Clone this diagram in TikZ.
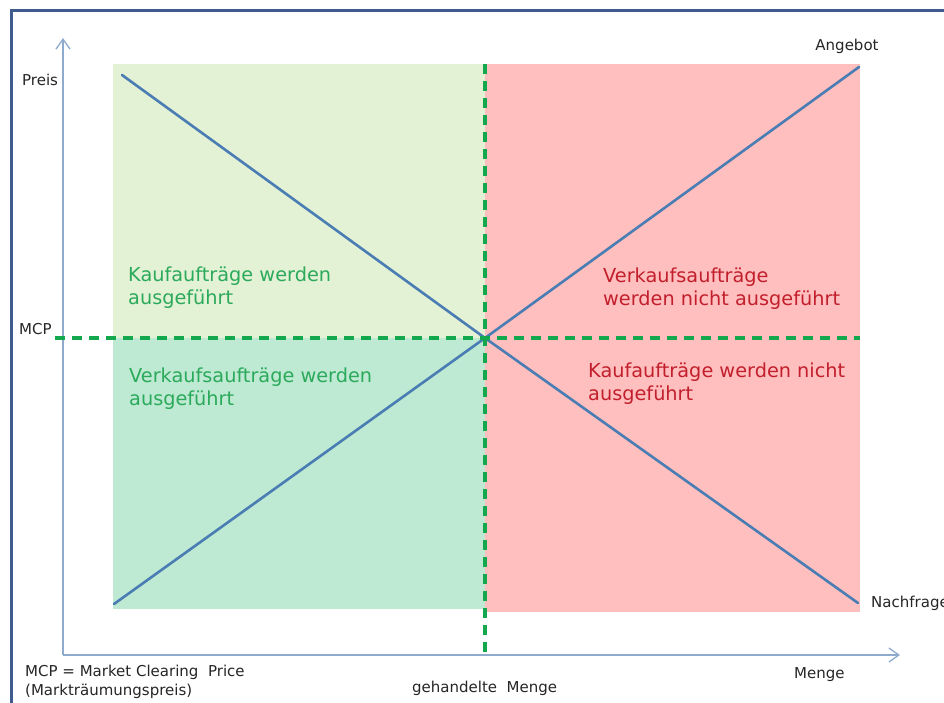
\documentclass[tikz,border=0pt]{standalone}
\usepackage{fontspec}
\setmainfont{DejaVu Sans}
\usetikzlibrary{arrows.meta}

\definecolor{framec}{HTML}{3E5C8E}
\definecolor{axisc}{HTML}{8FAACF}
\definecolor{buyfill}{HTML}{E3F1D5}
\definecolor{sellfill}{HTML}{BEE9D2}
\definecolor{nofill}{HTML}{FFBFBF}
\definecolor{curvec}{HTML}{4A7DB3}
\definecolor{mcpc}{HTML}{14A84E}
\definecolor{oktext}{HTML}{2BAA5B}
\definecolor{notext}{HTML}{C21F2C}

\begin{document}
\begin{tikzpicture}[x=1pt,y=-1pt,
  small/.style={font=\fontsize{15}{18.5}\selectfont, text=black!85, inner sep=0pt, anchor=base west, align=left},
  region/.style={font=\fontsize{19.3}{22.5}\selectfont, inner sep=0pt, anchor=base west, align=left},
  axisline/.style={draw=axisc, line width=1.3pt, -{Straight Barb[length=10pt,width=14pt,line width=1.3pt]}},
  curve/.style={draw=curvec, line width=2.6pt, line cap=round},
  mcpline/.style={draw=mcpc, line width=3.2pt, dash pattern=on 10pt off 7pt}]

\useasboundingbox (0,0) rectangle (944,702);
\clip (0,0) rectangle (944,702);
\fill[white] (0,0) rectangle (944,702);

% outer frame (continues past the page on the right and bottom)
\draw[framec, line width=3pt] (11,720) -- (11,10) -- (960,10);

% regions
\fill[buyfill]  (113,64)  rectangle (485,338);
\fill[sellfill] (113,338) rectangle (485,609);
\fill[nofill]   (485,64)  rectangle (860,612);

% key points
\coordinate (origin) at (63,655);
\coordinate (ytip)   at (63,38);
\coordinate (xtip)   at (900,655);
\coordinate (eq)     at (485,338);
\coordinate (d1)     at (122,75);
\coordinate (d2)     at (858,603);
\coordinate (s1)     at (114,604);
\coordinate (s2)     at (859,67);
\coordinate (mcpL)   at (55,338);
\coordinate (mcpR)   at (860,338);
\coordinate (qT)     at (485,64);
\coordinate (qB)     at (485,659);

% axes
\draw[axisline] (origin) -- (ytip);
\draw[axisline] (origin) -- (xtip);

% demand and supply curves
\draw[curve] (d1) -- (eq) -- (d2);
\draw[curve] (s1) -- (eq) -- (s2);

% clearing price and traded quantity
\draw[mcpline] (mcpL) -- (mcpR);
\draw[mcpline] (qT) -- (qB);

% axis and curve labels (multi-line nodes sit on the baseline of their last line)
\node[small] (preis) at (22,85) {Preis};
\node[small] (mcp) at (19,334) {MCP};
\node[small, anchor=base] (angebot) at (847,50) {Angebot};
\node[small] (nachfrage) at (871,607) {Nachfrage};
\node[small] (menge) at (794,678) {Menge};
\node[small] (traded) at (412,692) {gehandelte\ \ Menge};
\node[small] (legend) at (25,695) {MCP = Market Clearing\ \ Price\\(Markträumungspreis)};

% region descriptions
\node[region, text=oktext] (buyok)  at (128,304) {Kaufaufträge werden\\ausgeführt};
\node[region, text=oktext] (sellok) at (129,405) {Verkaufsaufträge werden\\ausgeführt};
\node[region, text=notext] (sellno) at (603,305) {Verkaufsaufträge\\werden nicht ausgeführt};
\node[region, text=notext] (buyno)  at (588,400) {Kaufaufträge werden nicht\\ausgeführt};

\end{tikzpicture}
\end{document}
